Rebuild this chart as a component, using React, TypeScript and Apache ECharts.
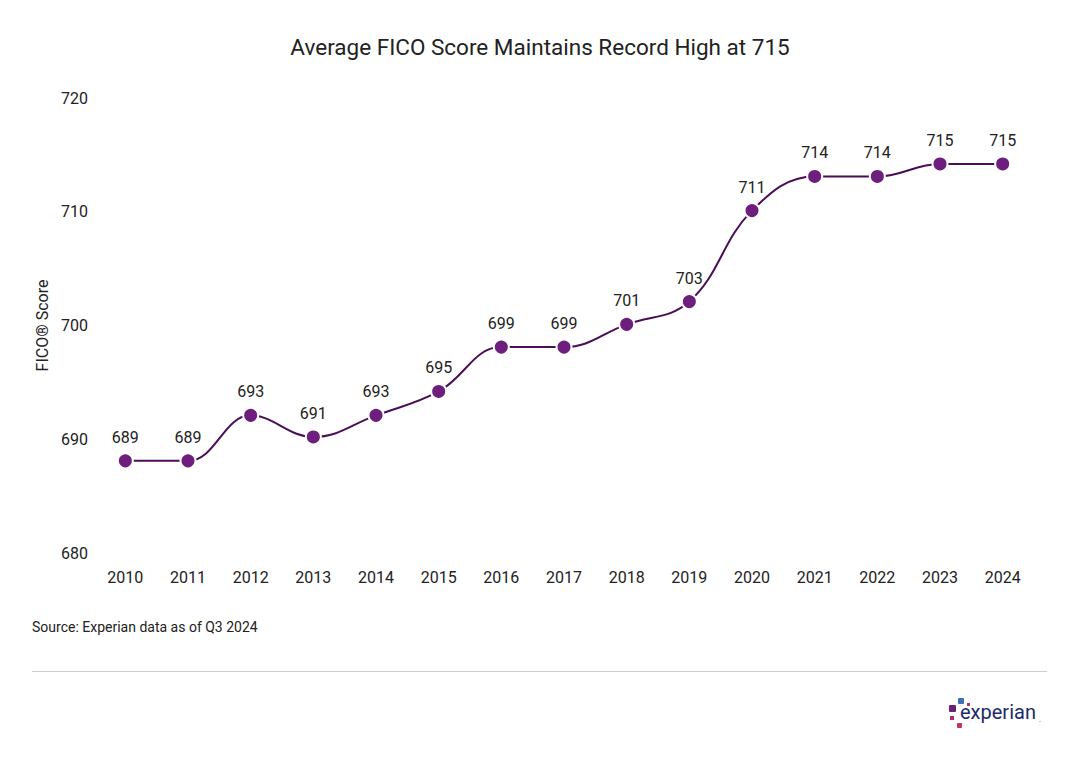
import { useEffect, useRef } from 'react';
import * as echarts from 'echarts';

const years = ['2010', '2011', '2012', '2013', '2014', '2015', '2016', '2017', '2018', '2019', '2020', '2021', '2022', '2023', '2024'];
// where the markers sit against the axis
const plotted = [688.1, 688.1, 692.1, 690.2, 692.1, 694.2, 698.1, 698.1, 700.1, 702.1, 710.1, 713.1, 713.1, 714.2, 714.2];
// the labels printed above the markers
const scoreLabels = [689, 689, 693, 691, 693, 695, 699, 699, 701, 703, 711, 714, 714, 715, 715];
const yTicks = [680, 690, 700, 710, 720];

const FONT = 'Roboto, "Noto Sans", sans-serif';

const App = () => {
  const chartRef = useRef<HTMLDivElement>(null);

  useEffect(() => {
    if (!chartRef.current) return;
    const chart = echarts.init(chartRef.current, undefined, { renderer: 'svg' });

    const option = {
      animation: false,
      backgroundColor: '#ffffff',
      textStyle: { fontFamily: FONT },
      title: {
        text: 'Average FICO Score Maintains Record High at 715',
        left: 'center',
        top: 30,
        textStyle: { fontSize: 22.5, fontWeight: 'normal', color: '#222222', fontFamily: FONT },
      },
      grid: { left: 94, right: 46, top: 98, bottom: 205 },
      xAxis: {
        type: 'category',
        data: years,
        boundaryGap: true,
        axisLine: { show: false },
        axisTick: { show: false },
        axisLabel: { color: '#222222', fontSize: 16, margin: 16, fontFamily: FONT },
      },
      yAxis: {
        type: 'value',
        min: yTicks[0],
        max: yTicks[yTicks.length - 1],
        interval: 10,
        name: 'FICO® Score',
        nameLocation: 'middle',
        nameGap: 40,
        nameTextStyle: { color: '#222222', fontSize: 16, fontFamily: FONT },
        axisLine: { show: false },
        axisTick: { show: false },
        splitLine: { show: false },
        axisLabel: { color: '#222222', fontSize: 16, margin: 6, fontFamily: FONT },
      },
      series: [
        {
          type: 'line',
          data: plotted,
          smooth: 0.4,
          symbol: 'circle',
          symbolSize: 15,
          lineStyle: { color: '#4a0e57', width: 2 },
          itemStyle: { color: '#6e1f7e', borderColor: '#ffffff', borderWidth: 2 },
          label: {
            show: true,
            position: 'top',
            distance: 7,
            color: '#222222',
            fontSize: 16,
            fontFamily: FONT,
            formatter: (p: { dataIndex: number }) => String(scoreLabels[p.dataIndex]),
          },
        },
      ],
      graphic: [
        {
          type: 'text',
          left: 32,
          top: 620,
          style: { text: 'Source: Experian data as of Q3 2024', fill: '#222222', fontSize: 14, fontFamily: FONT },
        },
        {
          type: 'line',
          shape: { x1: 32, y1: 671.5, x2: 1047, y2: 671.5 },
          style: { stroke: '#cccccc', lineWidth: 1 },
        },
        // experian logo
        { type: 'rect', shape: { x: 958, y: 698, width: 6, height: 6, r: 1 }, style: { fill: '#3f6fb5' } },
        { type: 'rect', shape: { x: 967, y: 703, width: 3, height: 3 }, style: { fill: '#b5307a' } },
        { type: 'rect', shape: { x: 949, y: 705, width: 7, height: 7, r: 1 }, style: { fill: '#6a2274' } },
        { type: 'rect', shape: { x: 950, y: 716, width: 4, height: 4 }, style: { fill: '#a9306f' } },
        { type: 'rect', shape: { x: 957, y: 723, width: 5, height: 5, r: 1 }, style: { fill: '#c4316f' } },
        {
          type: 'text',
          left: 960,
          top: 702,
          style: { text: 'experian', fill: '#1c2a6b', fontSize: 20, fontFamily: FONT },
        },
        {
          type: 'text',
          left: 1039,
          top: 716,
          style: { text: '.', fill: '#1c2a6b', fontSize: 7, fontFamily: FONT },
        },
      ],
    };

    chart.setOption(option);
    return () => chart.dispose();
  }, []);

  return (
    <div
      ref={chartRef}
      style={{ position: 'fixed', left: 0, top: 0, width: '1080px', height: '758px' }}
    />
  );
};

export default App;
